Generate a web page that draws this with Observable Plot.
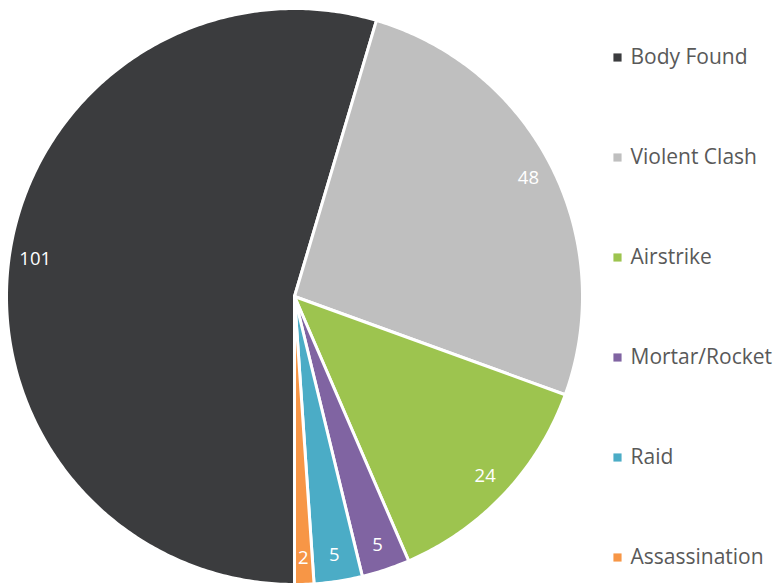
<!DOCTYPE html>
<html>
<head>
<meta charset="utf-8">
<script src="https://cdn.jsdelivr.net/npm/d3@7"></script>
<script src="https://cdn.jsdelivr.net/npm/@observablehq/plot@0.6"></script>
<style>
  html, body { margin: 0; padding: 0; background: #fff; }
  #chart svg { display: block; }
</style>
</head>
<body>
<div id="chart"></div>
<script>
// ---- data ----
const categories = ["Body Found", "Violent Clash", "Airstrike", "Mortar/Rocket", "Raid", "Assassination"];
const values = [101, 48, 24, 5, 5, 2];
const colors = ["#3b3c3e", "#bfbfbf", "#9dc44f", "#8064a2", "#4bacc6", "#f79646"];

// ---- layout ----
const W = 777, H = 585;
const cx = 294, cy = 296, R = 288, labelR = 262;
const legendX = 617, legendTextX = 630, legendY0 = 57, legendStep = 100;

const rows = categories.map((c, i) => ({category: c, value: values[i], color: colors[i], order: i}));
// Excel first-slice angle 180deg, clockwise
const arcs = d3.pie().value(d => d.value).sort(null).startAngle(Math.PI).endAngle(3 * Math.PI)(rows);

const pts = [];
const labels = [];
for (const a of arcs) {
  const n = Math.max(2, Math.ceil((a.endAngle - a.startAngle) / 0.01));
  pts.push({category: a.data.category, px: cx, py: cy});
  for (let k = 0; k <= n; k++) {
    const t = a.startAngle + (a.endAngle - a.startAngle) * k / n;
    pts.push({category: a.data.category, px: cx + R * Math.sin(t), py: cy - R * Math.cos(t)});
  }
  const m = (a.startAngle + a.endAngle) / 2;
  labels.push({category: a.data.category, text: String(a.data.value), px: cx + labelR * Math.sin(m), py: cy - labelR * Math.cos(m)});
}
const legend = rows.map((d, i) => ({...d, ly: legendY0 + i * legendStep}));

const chart = Plot.plot({
  width: W, height: H,
  margin: 0,
  x: {domain: [0, W], range: [0, W], axis: null},
  y: {domain: [0, H], range: [0, H], axis: null},
  color: {domain: categories, range: colors},
  style: {fontFamily: "Open Sans, Lato, sans-serif", background: "#fff"},
  marks: [
    Plot.line(pts, {x: "px", y: "py", z: "category", fill: "category", stroke: "white", strokeWidth: 3, curve: "linear-closed", strokeLinejoin: "round"}),
    Plot.text(labels, {x: "px", y: "py", text: "text", fill: "white", fontSize: 18.5}),
    Plot.dot(legend, {x: () => legendX, y: "ly", symbol: "square", r: 4.6, fill: "category", stroke: null}),
    Plot.text(legend, {x: () => legendTextX, y: "ly", text: "category", textAnchor: "start", fill: "#595959", fontSize: 21})
  ]
});
document.getElementById("chart").appendChild(chart);
</script>
</body>
</html>
